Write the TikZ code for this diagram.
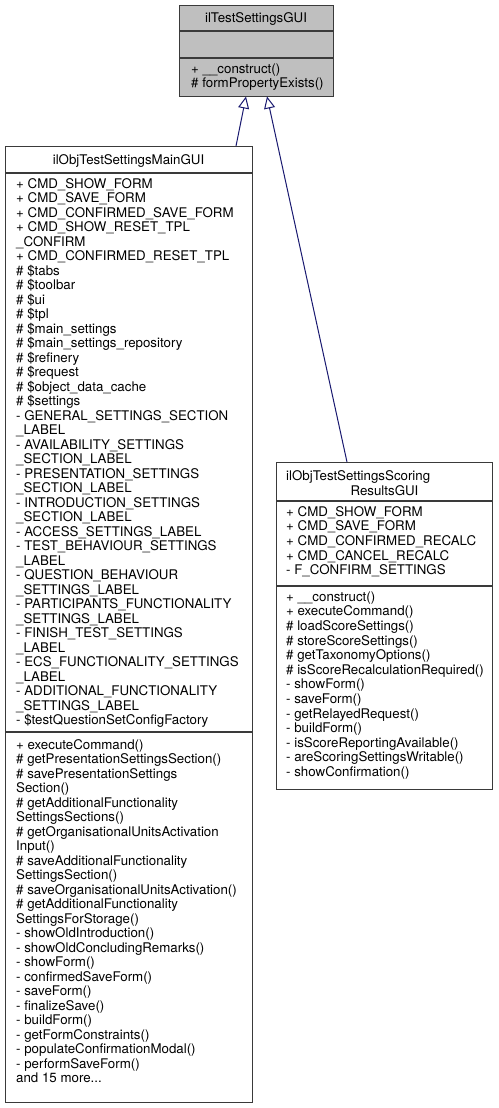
\documentclass[tikz,border=0pt]{standalone}
\usepackage{fontspec}
\setmainfont{TeX Gyre Heros}
\usetikzlibrary{arrows.meta}
\definecolor{edgecol}{HTML}{191970}
\definecolor{boxline}{HTML}{3A3A3A}
\definecolor{topfill}{HTML}{BFBFBF}
\tikzset{
  cls/.style={draw=boxline, line width=1.3pt, inner sep=0pt, anchor=north west, fill=white},
  memb/.style={anchor=north west, inner sep=0pt, align=left, font=\fontsize{13.3}{14.6}\selectfont},
  membm/.style={anchor=north west, inner sep=0pt, align=left, font=\fontsize{13.3}{14.5}\selectfont},
  ttl/.style={inner sep=0pt, anchor=base, font=\fontsize{13.3}{14.6}\selectfont},
  ttlw/.style={inner sep=0pt, anchor=base west, font=\fontsize{13.3}{14.6}\selectfont},
  sepline/.style={draw=boxline, line width=1.3pt},
  inherit/.style={draw=edgecol, line width=1pt, -{Triangle[length=12pt,width=11pt,fill=white]}},
}
\begin{document}
\begin{tikzpicture}[x=1pt,y=-1pt]
\useasboundingbox[fill=white] (0,0) rectangle (498,1108);

% ---------- base class ----------
\node[cls, fill=topfill, minimum width=154pt, minimum height=91pt] (base) at (179,5) {};
\draw[sepline] (179,31) -- (333,31);
\draw[sepline] (179,58) -- (333,58);
\node[ttl] (baseT) at (256,23) {ilTestSettingsGUI};
\node[memb] (baseM) at (191,62.8) {\strut+ \_\_construct()\\\# formPropertyExists()};

% ---------- main settings GUI ----------
\node[cls, minimum width=247pt, minimum height=956pt] (main) at (5,146) {};
\draw[sepline] (5,173) -- (252,173);
\draw[sepline] (5,732) -- (252,732);
\node[ttl] (mainT) at (128.5,164) {ilObjTestSettingsMainGUI};
\node[membm] (mainA) at (16,178) {\strut+ CMD\_SHOW\_FORM\\
+ CMD\_SAVE\_FORM\\
+ CMD\_CONFIRMED\_SAVE\_FORM\\
+ CMD\_SHOW\_RESET\_TPL\\
\_CONFIRM\\
+ CMD\_CONFIRMED\_RESET\_TPL\\
\# \$tabs\\
\# \$toolbar\\
\# \$ui\\
\# \$tpl\\
\# \$main\_settings\\
\# \$main\_settings\_repository\\
\# \$refinery\\
\# \$request\\
\# \$object\_data\_cache\\
\# \$settings\\
- GENERAL\_SETTINGS\_SECTION\\
\_LABEL\\
- AVAILABILITY\_SETTINGS\\
\_SECTION\_LABEL\\
- PRESENTATION\_SETTINGS\\
\_SECTION\_LABEL\\
- INTRODUCTION\_SETTINGS\\
\_SECTION\_LABEL\\
- ACCESS\_SETTINGS\_LABEL\\
- TEST\_BEHAVIOUR\_SETTINGS\\
\_LABEL\\
- QUESTION\_BEHAVIOUR\\
\_SETTINGS\_LABEL\\
- PARTICIPANTS\_FUNCTIONALITY\\
\_SETTINGS\_LABEL\\
- FINISH\_TEST\_SETTINGS\\
\_LABEL\\
- ECS\_FUNCTIONALITY\_SETTINGS\\
\_LABEL\\
- ADDITIONAL\_FUNCTIONALITY\\
\_SETTINGS\_LABEL\\
- \$testQuestionSetConfigFactory};
\node[membm] (mainM) at (16,739) {\strut+ executeCommand()\\
\# getPresentationSettingsSection()\\
\# savePresentationSettings\\
Section()\\
\# getAdditionalFunctionality\\
SettingsSections()\\
\# getOrganisationalUnitsActivation\\
Input()\\
\# saveAdditionalFunctionality\\
SettingsSection()\\
\# saveOrganisationalUnitsActivation()\\
\# getAdditionalFunctionality\\
SettingsForStorage()\\
- showOldIntroduction()\\
- showOldConcludingRemarks()\\
- showForm()\\
- confirmedSaveForm()\\
- saveForm()\\
- finalizeSave()\\
- buildForm()\\
- getFormConstraints()\\
- populateConfirmationModal()\\
- performSaveForm()\\
and 15 more...};

% ---------- scoring results GUI ----------
\node[cls, minimum width=216pt, minimum height=327pt] (score) at (276,462) {};
\draw[sepline] (276,501) -- (492,501);
\draw[sepline] (276,586) -- (492,586);
\node[ttlw] (scoreT1) at (286,480.5) {ilObjTestSettingsScoring};
\node[ttl] (scoreT2) at (384.5,495) {ResultsGUI};
\node[memb] (scoreA) at (286,505.8) {\strut+ CMD\_SHOW\_FORM\\
+ CMD\_SAVE\_FORM\\
+ CMD\_CONFIRMED\_RECALC\\
+ CMD\_CANCEL\_RECALC\\
- F\_CONFIRM\_SETTINGS};
\node[memb] (scoreM) at (286,590.8) {\strut+ \_\_construct()\\
+ executeCommand()\\
\# loadScoreSettings()\\
\# storeScoreSettings()\\
\# getTaxonomyOptions()\\
\# isScoreRecalculationRequired()\\
- showForm()\\
- saveForm()\\
- getRelayedRequest()\\
- buildForm()\\
- isScoreReportingAvailable()\\
- areScoringSettingsWritable()\\
- showConfirmation()};

% ---------- inheritance ----------
\coordinate (m1) at (236,146);
\coordinate (b1) at (246,96.5);
\coordinate (s1) at (347,462);
\coordinate (b2) at (267,96.5);
\draw[inherit] (m1) -- (b1);
\draw[inherit] (s1) -- (b2);
\end{tikzpicture}
\end{document}
